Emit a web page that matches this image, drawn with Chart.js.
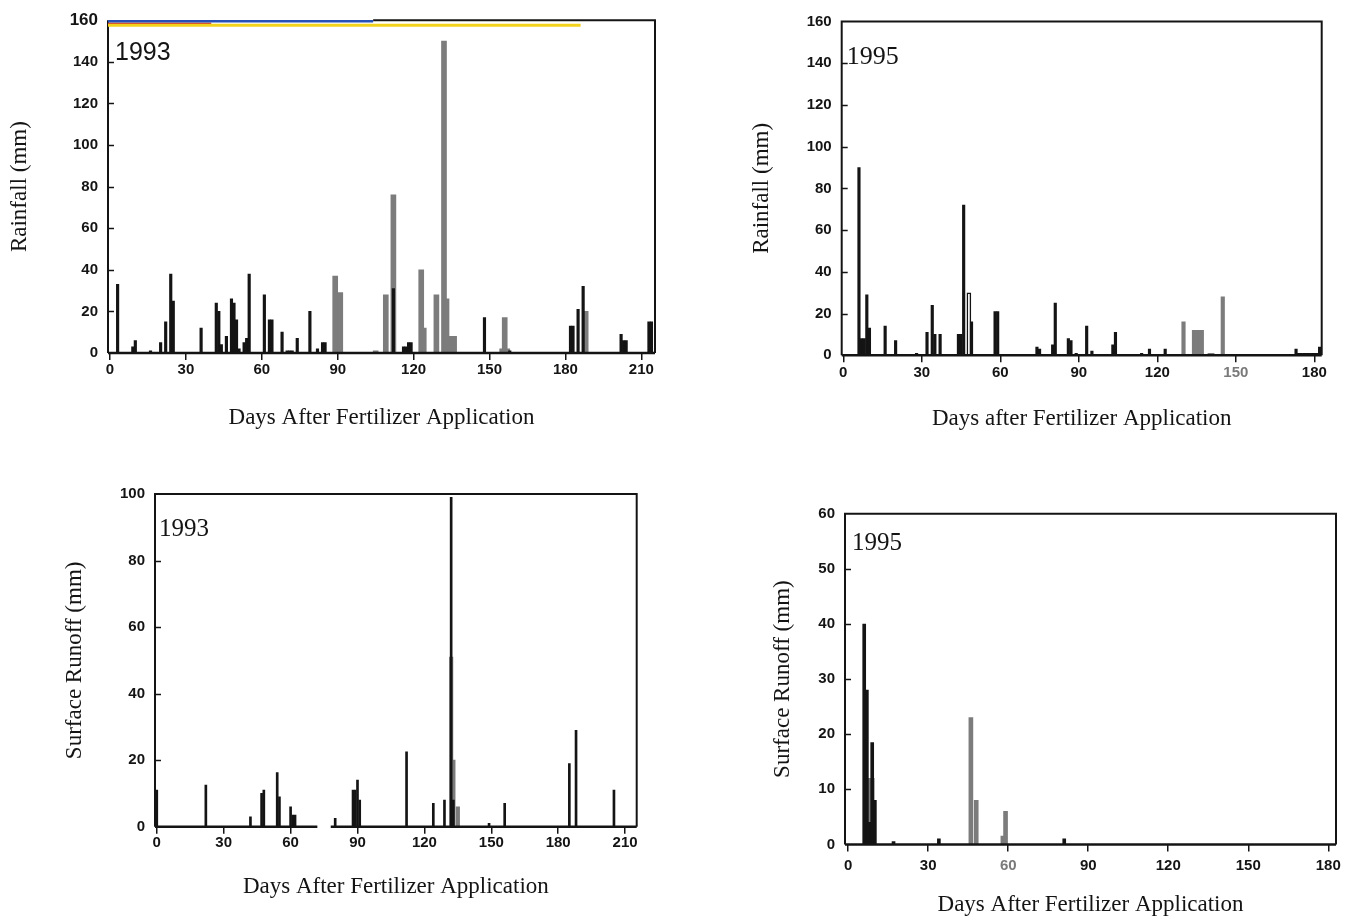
<!DOCTYPE html>
<html><head><meta charset="utf-8">
<script src="https://cdn.jsdelivr.net/npm/chart.js@4.4.0/dist/chart.umd.min.js"></script>
<style>
body{margin:0;background:#fff;width:1349px;height:919px;overflow:hidden;position:relative}
canvas{position:absolute}
</style></head><body>
<canvas id="c1" width="680" height="450"></canvas>
<canvas id="c2" width="659" height="450"></canvas>
<canvas id="c3" width="680" height="459"></canvas>
<canvas id="c4" width="659" height="449"></canvas>
<script>
// ---------- tick labels ----------
const xTicks93 = [0, 30, 60, 90, 120, 150, 180, 210];
const xTicks95 = [0, 30, 60, 90, 120, 150, 180];
const yTicksRain = [0, 20, 40, 60, 80, 100, 120, 140, 160];
const yTicksRun93 = [0, 20, 40, 60, 80, 100];
const yTicksRun95 = [0, 10, 20, 30, 40, 50, 60];

// ---------- 1993 rainfall (mm) ----------
const rain93BlackDays = [3, 9, 10, 16, 20, 22, 24, 25, 36, 42, 43, 44, 46, 48, 49, 50, 51, 53, 54, 55, 61, 63, 64, 68, 70, 71, 72, 74, 79, 82, 84, 85, 112, 116, 117, 118, 119, 148, 158, 182, 183, 185, 187, 202, 203, 204, 213, 214];
const rain93BlackMm   = [33, 3, 6, 1, 5, 15, 38, 25, 12, 24, 20, 4, 8, 26, 24, 16, 2, 5, 7, 38, 28, 16, 16, 10, 1, 1, 1, 7, 20, 2, 5, 5, 31, 3, 3, 5, 5, 17, 1, 13, 13, 21, 32, 9, 6, 6, 15, 15];
const rain93GreyDays  = [89, 91, 105, 109, 112, 123, 124, 129, 132, 133, 135, 136, 155, 156, 157, 188];
const rain93GreyMm    = [37, 29, 1, 28, 76, 40, 12, 28, 150, 26, 8, 8, 2, 17, 2, 20];

// ---------- 1995 rainfall (mm) ----------
const rain95BlackDays = [6, 7, 8, 9, 10, 16, 20, 28, 32, 34, 35, 37, 44, 45, 46, 49, 58, 59, 74, 75, 80, 81, 86, 87, 89, 93, 95, 103, 104, 114, 117, 123, 173, 174, 175, 176, 177, 178, 179, 180, 181, 182];
const rain95BlackMm   = [90, 8, 8, 29, 13, 14, 7, 1, 11, 24, 10, 10, 10, 10, 72, 16, 21, 21, 4, 3, 5, 25, 8, 7, 1, 14, 2, 5, 11, 1, 3, 3, 3, 1, 1, 1, 1, 1, 1, 1, 1, 4];
const rain95OpenDays  = [48];
const rain95OpenMm    = [30];
const rain95GreyDays  = [130, 134, 135, 136, 137, 140, 141, 145];
const rain95GreyMm    = [16, 12, 12, 12, 12, 1, 1, 28];

// ---------- 1993 surface runoff (mm) ----------
const run93BlackDays = [0, 22, 42, 47, 48, 54, 55, 60, 61, 62, 80, 88, 89, 90, 91, 112, 124, 129, 132, 133, 149, 156, 185, 188, 205];
const run93BlackMm   = [11, 12.5, 3, 10, 11, 16.3, 9, 6, 3.5, 3.5, 2.5, 11, 11, 14, 8, 22.5, 7, 8, 99, 8, 1, 7, 19, 29, 11];
const run93GreyDays  = [132, 133, 135];
const run93GreyMm    = [51, 20, 6];

// ---------- 1995 surface runoff (mm) ----------
const run95BlackDays = [6, 7, 8, 9, 10, 17, 34, 81];
const run95BlackMm   = [40, 28, 4, 18.5, 8, 0.5, 1, 1];
const run95GreyDays  = [7, 8, 9, 46, 48, 58, 59];
const run95GreyMm    = [12, 12, 12, 23, 8, 1.5, 6];

function pts(days, vals) { return days.map((d, i) => ({x: d, y: vals[i]})); }

const INK = '#141414', GREY = '#7c7c7c';
const tickFont = {family: "'Liberation Sans', Arial, sans-serif", size: 15, weight: 'bold'};
const titleFont = {family: "'Liberation Serif', 'Times New Roman', serif", size: 23};

const framePlugin = {
  id: 'frame',
  afterDatasetsDraw(chart, args, o) {
    const {ctx, chartArea: a, scales: {x, y}} = chart;
    ctx.save();
    ctx.strokeStyle = INK;
    ctx.lineCap = 'butt';
    // inward y ticks
    ctx.lineWidth = 1.5;
    y.ticks.forEach(t => {
      if (t.value === y.min || t.value === y.max) return;
      const py = Math.round(y.getPixelForValue(t.value)) + 0.5;
      ctx.beginPath(); ctx.moveTo(a.left, py); ctx.lineTo(a.left + 6, py); ctx.stroke();
    });
    // frame
    ctx.lineWidth = 2;
    ctx.beginPath();
    ctx.moveTo(a.left, a.bottom); ctx.lineTo(a.left, a.top);
    if (o.topColors) {
      ctx.stroke();
      const xb = x.getPixelForValue(o.topColors.blueEnd);
      const xo = x.getPixelForValue(o.topColors.orangeEnd);
      const xy = x.getPixelForValue(o.topColors.yellowEnd);
      ctx.lineWidth = 3; ctx.strokeStyle = '#f3d21c';
      ctx.beginPath(); ctx.moveTo(a.left, a.top + 5); ctx.lineTo(xy, a.top + 5); ctx.stroke();
      ctx.lineWidth = 1.5; ctx.strokeStyle = '#d8572a';
      ctx.beginPath(); ctx.moveTo(a.left, a.top + 3); ctx.lineTo(xo, a.top + 3); ctx.stroke();
      ctx.lineWidth = 2.5; ctx.strokeStyle = '#2550b8';
      ctx.beginPath(); ctx.moveTo(a.left, a.top + 1); ctx.lineTo(xb, a.top + 1); ctx.stroke();
      ctx.lineWidth = 2; ctx.strokeStyle = INK;
      ctx.beginPath(); ctx.moveTo(xb, a.top); ctx.lineTo(a.right, a.top); ctx.lineTo(a.right, a.bottom); ctx.stroke();
    } else {
      ctx.lineTo(a.right, a.top); ctx.lineTo(a.right, a.bottom);
      ctx.stroke();
    }
    // baseline (x axis)
    ctx.lineWidth = 2.5;
    ctx.beginPath();
    if (o.gap) {
      const g0 = x.getPixelForValue(o.gap[0]), g1 = x.getPixelForValue(o.gap[1]);
      ctx.moveTo(a.left, a.bottom); ctx.lineTo(g0, a.bottom);
      ctx.moveTo(g1, a.bottom); ctx.lineTo(a.right, a.bottom);
    } else {
      ctx.moveTo(a.left, a.bottom); ctx.lineTo(a.right, a.bottom);
    }
    ctx.stroke();
    // year label
    ctx.fillStyle = INK;
    ctx.font = o.yearFont;
    ctx.textBaseline = 'middle';
    ctx.textAlign = 'left';
    ctx.fillText(o.year, a.left + o.dx, a.top + o.dy);
    ctx.restore();
  }
};

function panel(id, box, area, c) {
  const cv = document.getElementById(id);
  cv.style.left = box.left + 'px';
  cv.style.top = box.top + 'px';
  new Chart(cv, {
    type: 'bar',
    data: {datasets: c.datasets},
    options: {
      responsive: false, animation: false,
      layout: {padding: {top: area.top - box.top, right: box.left + box.w - area.right, left: 0, bottom: 0}},
      plugins: {legend: {display: false}, tooltip: {enabled: false}, frame: c.frame},
      scales: {
        x: {
          type: 'linear', min: c.xMin, max: c.xMax, offset: false,
          afterBuildTicks: s => { s.ticks = c.xTicks.map(v => ({value: v})); },
          afterFit: s => { s.height = box.top + box.h - area.bottom; },
          grid: {display: true, drawOnChartArea: false, drawTicks: true, tickLength: 7, color: INK, lineWidth: 1.5, offset: false},
          border: {display: false},
          ticks: {font: tickFont, color: c.xTickColor || INK, padding: c.xPad, maxRotation: 0, autoSkip: false},
          title: {display: true, text: c.xTitle, font: titleFont, color: INK, padding: {top: 0, bottom: c.xTitlePad}}
        },
        y: {
          min: 0, max: c.yMax,
          afterBuildTicks: s => { s.ticks = c.yTicks.map(v => ({value: v})); },
          afterFit: s => { s.width = area.left - box.left; },
          grid: {display: false, drawTicks: false},
          border: {display: false},
          ticks: {font: c.yTickFont || tickFont, color: INK, padding: 10},
          title: {display: true, text: c.yTitle, font: titleFont, color: INK, padding: {top: c.yTitlePad, bottom: 0}}
        }
      }
    },
    plugins: [framePlugin]
  });
}

const barBase = {borderWidth: 0, grouped: false};

// 1993 rainfall
panel('c1', {left: 0, top: 0, w: 680, h: 450}, {left: 108, right: 655, top: 20, bottom: 353}, {
  datasets: [
    {...barBase, data: pts(rain93BlackDays, rain93BlackMm), backgroundColor: INK, barThickness: 2.5},
    {...barBase, data: pts(rain93GreyDays, rain93GreyMm), backgroundColor: GREY, barThickness: 5}
  ],
  xMin: -0.8, xMax: 215.4, xTicks: xTicks93, yMax: 160, yTicks: yTicksRain,
  yTickFont: ctx => (ctx.tick && ctx.tick.value === 160) ? {family: tickFont.family, size: 17, weight: 'bold'} : tickFont,
  xPad: 1, xTitlePad: 18.2, yTitlePad: 6.2,
  xTitle: 'Days After Fertilizer Application', yTitle: 'Rainfall (mm)',
  frame: {year: '1993', yearFont: "25px 'Liberation Sans', Arial, sans-serif", dx: 7, dy: 33,
          topColors: {blueEnd: 104, orangeEnd: 40, yellowEnd: 186}}
});

// 1995 rainfall
panel('c2', {left: 690, top: 0, w: 659, h: 450}, {left: 841.7, right: 1321.7, top: 21.5, bottom: 355.3}, {
  datasets: [
    {...barBase, data: pts(rain95BlackDays, rain95BlackMm), backgroundColor: INK, barThickness: 2.5},
    {...barBase, data: pts(rain95OpenDays, rain95OpenMm), backgroundColor: '#ffffff', borderColor: INK, borderWidth: 1.5, barThickness: 4},
    {...barBase, data: pts(rain95GreyDays, rain95GreyMm), backgroundColor: GREY, barThickness: 3.5}
  ],
  xMin: -0.6, xMax: 182.8, xTicks: xTicks95, yMax: 160, yTicks: yTicksRain,
  xTickColor: ctx => (ctx.tick && ctx.tick.value === 150) ? '#7a7a7a' : INK,
  xPad: 1.7, xTitlePad: 17.5, yTitlePad: 58.2,
  xTitle: 'Days after Fertilizer Application', yTitle: 'Rainfall (mm)',
  frame: {year: '1995', yearFont: "26px 'Liberation Serif', 'Times New Roman', serif", dx: 5, dy: 36}
});

// 1993 runoff
panel('c3', {left: 0, top: 460, w: 680, h: 459}, {left: 155, right: 636.7, top: 494, bottom: 826.7}, {
  datasets: [
    {...barBase, data: pts(run93BlackDays, run93BlackMm), backgroundColor: INK, barThickness: 2},
    {...barBase, data: pts(run93GreyDays, run93GreyMm), backgroundColor: GREY, barThickness: 3.5}
  ],
  xMin: -0.8, xMax: 215.2, xTicks: xTicks93, yMax: 100, yTicks: yTicksRun93,
  xPad: 0.3, xTitlePad: 18.2, yTitlePad: 61.2,
  xTitle: 'Days After Fertilizer Application', yTitle: 'Surface Runoff (mm)',
  frame: {year: '1993', yearFont: "25px 'Liberation Serif', 'Times New Roman', serif", dx: 4, dy: 35, gap: [72, 78]}
});

// 1995 runoff
panel('c4', {left: 690, top: 470, w: 659, h: 449}, {left: 845, right: 1336, top: 513.8, bottom: 844.4}, {
  datasets: [
    {...barBase, data: pts(run95BlackDays, run95BlackMm), backgroundColor: INK, barThickness: 3},
    {...barBase, data: pts(run95GreyDays, run95GreyMm), backgroundColor: GREY, barThickness: 4}
  ],
  xMin: -1.2, xMax: 182.9, xTicks: xTicks95, yMax: 60, yTicks: yTicksRun95,
  xTickColor: ctx => (ctx.tick && ctx.tick.value === 60) ? '#7a7a7a' : INK,
  xPad: 5.6, xTitlePad: 0.2, yTitlePad: 79.2,
  xTitle: 'Days After Fertilizer Application', yTitle: 'Surface Runoff (mm)',
  frame: {year: '1995', yearFont: "25px 'Liberation Serif', 'Times New Roman', serif", dx: 7, dy: 30}
});
</script>
</body></html>
